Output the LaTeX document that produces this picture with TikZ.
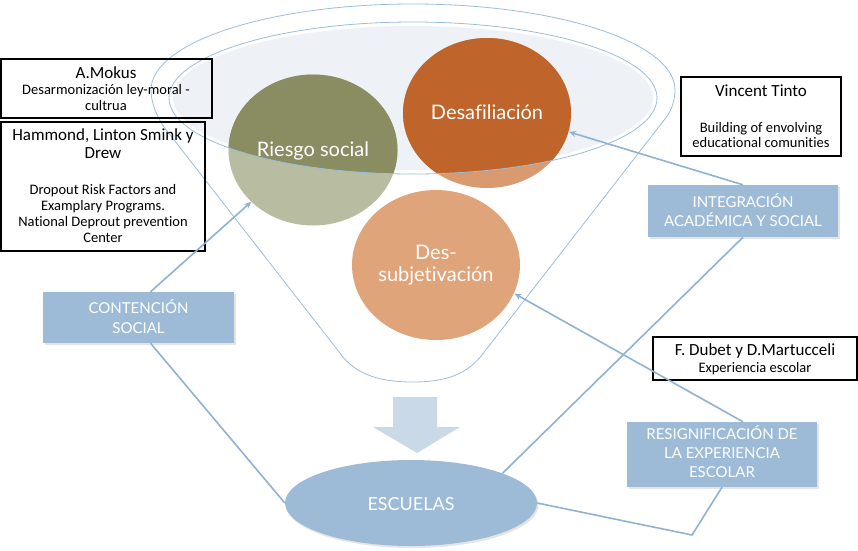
\documentclass[tikz,border=0pt]{standalone}
\usepackage{fontspec}
\setmainfont[Ligatures=NoCommon]{Carlito}
\newfontfamily\gill[Ligatures=NoCommon]{Lato}
\usetikzlibrary{shadows,arrows.meta,shapes.geometric}
\definecolor{olivedark}{HTML}{8A8D62}
\definecolor{olivelight}{HTML}{B8BDA1}
\definecolor{rustdark}{HTML}{BF652B}
\definecolor{rustlight}{HTML}{D99A70}
\definecolor{peach}{HTML}{E0A47A}
\definecolor{funnelfill}{HTML}{EEF2F7}
\definecolor{funnelline}{HTML}{9DBCD9}
\definecolor{boxblue}{HTML}{9DBBD6}
\definecolor{linkblue}{HTML}{8FB2D3}
\definecolor{arrowblue}{HTML}{C9D9E8}
\begin{document}
\begin{tikzpicture}[x=1pt,y=-1pt,
  circ/.style={ellipse, minimum width=169pt, minimum height=151pt, inner sep=0pt},
  circtext/.style={anchor=base, text=white, font=\gill\fontsize{20}{23}\selectfont},
  bluebox/.style={rectangle, fill=boxblue, inner sep=0pt, drop shadow={shadow xshift=1.5pt, shadow yshift=-1.5pt, fill=black!30, opacity=0.35}},
  bluetext/.style={anchor=base, text=white, font=\gill\fontsize{15}{18}\selectfont},
  refbox/.style={rectangle, draw=black, line width=1.3pt, inner sep=0pt},
  reftitle/.style={anchor=base, font=\fontsize{17}{20}\selectfont},
  refsub/.style={anchor=base, font=\fontsize{14.5}{17}\selectfont},
  link/.style={draw=linkblue, line width=1.6pt},
  linkarrow/.style={link, -{Stealth[length=7pt, width=6pt]}},
  funline/.style={draw=funnelline, line width=0.8pt}
]
\useasboundingbox (0,0) rectangle (858,550);

% outer funnel outline
\draw[funline]
  (151,90) arc[start angle=180, end angle=360, x radius=262, y radius=86]
  .. controls (675,100) and (672,108) .. (668,115)
  -- (485,351)
  .. controls (468,375) and (445,382) .. (413,382)
  .. controls (381,382) and (358,375) .. (343,357)
  -- (164,127)
  .. controls (156,115) and (151,102) .. (151,90);

% inner ellipse fill
\fill[funnelfill] (413,98) ellipse[x radius=240, y radius=72];

% circles
\fill[olivelight] (313,150) ellipse[x radius=84.5, y radius=75.5];
\fill[rustlight] (487,113) ellipse[x radius=84, y radius=75];
\fill[peach] (436,265) ellipse[x radius=84, y radius=75];
\begin{scope}
  \clip (413,98) ellipse[x radius=244, y radius=76];
  \fill[olivedark] (313,150) ellipse[x radius=84.5, y radius=75.5];
  \fill[rustdark] (487,113) ellipse[x radius=84, y radius=75];
\end{scope}
\draw[funline] (413,98) ellipse[x radius=244, y radius=76];

% circle nodes and texts
\node[circ] (riesgo) at (313,150) {};
\node[circ] (desaf) at (487,113) {};
\node[circ] (dessub) at (436,265) {};
\node[circtext] (riesgot) at (313,156) {Riesgo social};
\node[circtext] (desaft) at (487,119) {Desafiliación};
\node[circtext] (dessubta) at (436,259) {Des-};
\node[circtext] (dessubtb) at (436,281) {subjetivación};

% big arrow
\fill[arrowblue] (393,397) -- (437,397) -- (437,427) -- (460,427) -- (417,453) -- (373,427) -- (393,427) -- cycle;

% escuelas
\node[ellipse, fill=boxblue, minimum width=252pt, minimum height=86pt, inner sep=0pt,
  drop shadow={shadow xshift=1.5pt, shadow yshift=-2pt, fill=black!30, opacity=0.35}] (esc) at (411,503) {};
\node[anchor=base, text=white, font=\gill\fontsize{18}{21}\selectfont] (esct) at (411,510) {ESCUELAS};

% blue boxes
\node[bluebox, minimum width=191pt, minimum height=51pt] (cont) at (138.5,317.5) {};
\node[bluetext] (conta) at (138.5,313) {CONTENCIÓN};
\node[bluetext] (contb) at (138.5,333) {SOCIAL};

\node[bluebox, minimum width=190pt, minimum height=52pt] (integ) at (743,211) {};
\node[bluetext] (intega) at (743,207) {INTEGRACIÓN};
\node[bluetext] (integb) at (743,226) {ACADÉMICA Y SOCIAL};

\node[bluebox, minimum width=190pt, minimum height=65pt] (resig) at (722,454.5) {};
\node[bluetext] (resiga) at (722,439) {RESIGNIFICACIÓN DE};
\node[bluetext] (resigb) at (722,458) {LA EXPERIENCIA};
\node[bluetext] (resigc) at (722,477) {ESCOLAR};

% reference boxes
\node[refbox, minimum width=211pt, minimum height=59pt] (mokus) at (106.5,88.5) {};
\node[reftitle] (mokusa) at (106,78) {A.Mokus};
\node[refsub] (mokusb) at (106,94) {Desarmonización ley-moral -};
\node[refsub] (mokusc) at (106,110) {cultrua};

\node[refbox, minimum width=204pt, minimum height=129pt] (hamm) at (103,186.5) {};
\node[reftitle] (hamma) at (103,140) {Hammond, Linton Smink y};
\node[reftitle] (hammb) at (103,158) {Drew};
\node[refsub] (hammc) at (103,194) {Dropout Risk Factors and};
\node[refsub] (hammd) at (103,210) {Examplary Programs.};
\node[refsub] (hamme) at (103,226) {National Deprout prevention};
\node[refsub] (hammf) at (103,242) {Center};

\node[refbox, minimum width=160pt, minimum height=79pt] (tinto) at (761,116.5) {};
\node[reftitle] (tintoa) at (761,96) {Vincent Tinto};
\node[refsub] (tintob) at (761,132) {Building of envolving};
\node[refsub] (tintoc) at (761,147) {educational comunities};

\node[refbox, minimum width=204pt, minimum height=43pt] (dubet) at (755,358.5) {};
\node[reftitle] (dubeta) at (755,355) {F. Dubet y D.Martucceli};
\node[refsub] (dubetb) at (755,372) {Experiencia escolar};

% connectors
\coordinate (elbow) at (692,535);
\draw[linkarrow] ([xshift=12pt]cont.north) -- (riesgo.220);
\draw[link] ([xshift=12pt]cont.south) -- (esc.west);
\draw[link] (esc.18) -- (integ.south);
\draw[linkarrow] (integ.north) -- (desaf.347);
\draw[linkarrow] ([xshift=21pt]resig.north) -- (dessub.340);
\draw[link] (resig.south) -- (elbow) -- (esc.east);
\end{tikzpicture}
\end{document}
